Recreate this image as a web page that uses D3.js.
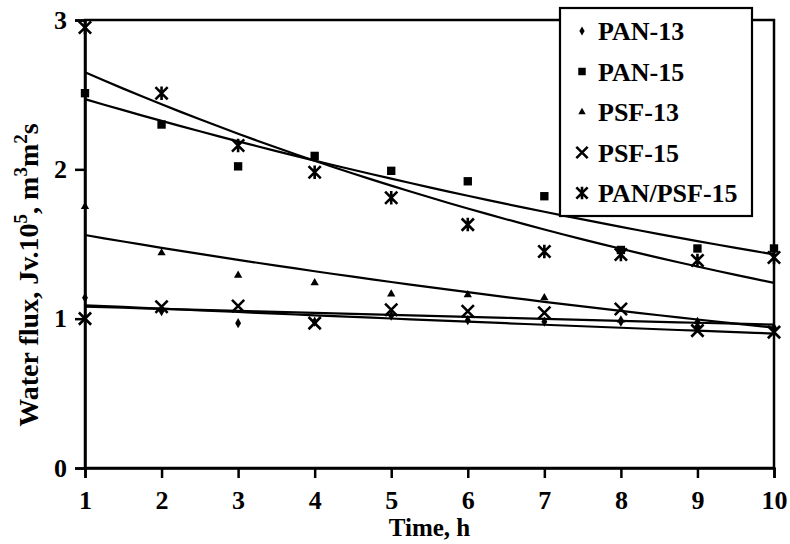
<!DOCTYPE html>
<html>
<head>
<meta charset="utf-8">
<script src="https://cdn.jsdelivr.net/npm/d3@7"></script>
<style>
  html, body { margin: 0; padding: 0; background: #fff; }
  svg text { font-family: "Liberation Serif", "Times New Roman", serif; font-weight: bold; fill: #000; }
</style>
</head>
<body>
<div id="chart"></div>
<script>
const timeHours = [1, 2, 3, 4, 5, 6, 7, 8, 9, 10];
const pan13 = [1.14, 1.05, 0.97, 0.98, 1.02, 0.99, 0.98, 0.98, 0.95, 0.93];
const pan15 = [2.51, 2.30, 2.02, 2.09, 1.99, 1.92, 1.82, 1.46, 1.47, 1.47];
const psf13 = [1.75, 1.44, 1.29, 1.24, 1.165, 1.16, 1.14, 0.99, 0.98, 0.94];
const psf15 = [1.00, 1.08, 1.085, 0.97, 1.06, 1.05, 1.04, 1.065, 0.92, 0.91];
const panPsf15 = [2.95, 2.51, 2.16, 1.98, 1.81, 1.63, 1.45, 1.43, 1.39, 1.41];

// trend line values read at t = 1 and t = 10
const seriesNames = ["PAN-13", "PAN-15", "PSF-13", "PSF-15", "PAN/PSF-15"];
const trendStart = [1.09, 2.47, 1.56, 1.08, 2.65];
const trendEnd = [0.90, 1.43, 0.94, 0.96, 1.24];

const yTicks = [0, 1, 2, 3];

const W = 790, H = 544;
const svg = d3.select("#chart").append("svg").attr("width", W).attr("height", H);

const x = d3.scaleLinear().domain([1, 10]).range([85, 774]);
const y = d3.scaleLinear().domain([0, 3]).range([468, 20]);

// custom marks
const xMark = {
  draw(ctx, size) {
    const r = Math.sqrt(size) / 2;
    ctx.moveTo(-r, -r); ctx.lineTo(r, r);
    ctx.moveTo(-r, r); ctx.lineTo(r, -r);
  }
};
const starMark = {
  draw(ctx, size) {
    const r = Math.sqrt(size) / 2;
    ctx.moveTo(-r, -r); ctx.lineTo(r, r);
    ctx.moveTo(-r, r); ctx.lineTo(r, -r);
    ctx.moveTo(0, -r * 1.1); ctx.lineTo(0, r * 1.1);
  }
};

const series = [
  { name: seriesNames[0], values: pan13, type: d3.symbolDiamond, size: 30, filled: true },
  { name: seriesNames[1], values: pan15, type: d3.symbolSquare, size: 70, filled: true },
  { name: seriesNames[2], values: psf13, type: d3.symbolTriangle, size: 30, filled: true },
  { name: seriesNames[3], values: psf15, type: xMark, size: 150, filled: false },
  { name: seriesNames[4], values: panPsf15, type: starMark, size: 150, filled: false }
];

// frame
svg.append("rect")
  .attr("x", x(1)).attr("y", y(3))
  .attr("width", x(10) - x(1)).attr("height", y(0) - y(3))
  .attr("fill", "none").attr("stroke", "#000").attr("stroke-width", 2.5);

// axes
const yAxis = svg.append("g")
  .attr("transform", `translate(${x(1)},0)`)
  .call(d3.axisLeft(y).tickValues(yTicks).tickSize(10).tickPadding(8).tickFormat(d3.format("d")));
const xAxis = svg.append("g")
  .attr("transform", `translate(0,${y(0)})`)
  .call(d3.axisBottom(x).tickValues(timeHours).tickSize(10).tickPadding(13).tickFormat(d3.format("d")));

[xAxis, yAxis].forEach(g => {
  g.select(".domain").attr("stroke-width", 2.5);
  g.selectAll(".tick line").attr("stroke-width", 2.5);
  g.selectAll("text").attr("font-size", 26).attr("font-family", "Liberation Serif").attr("font-weight", "bold").attr("fill", "#000");
});

// trend lines
const line = d3.line().x(d => x(d[0])).y(d => y(d[1]));
series.forEach((s, i) => {
  const pts = d3.range(1, 10.001, 0.25).map(t =>
    [t, trendStart[i] * Math.pow(trendEnd[i] / trendStart[i], (t - 1) / 9)]);
  svg.append("path").datum(pts).attr("d", line)
    .attr("fill", "none").attr("stroke", "#000").attr("stroke-width", 2.2);
});

// points
series.forEach(s => {
  const sym = d3.symbol().type(s.type).size(s.size);
  svg.append("g").selectAll("path")
    .data(s.values.map((v, j) => [timeHours[j], v]))
    .join("path")
    .attr("transform", d => `translate(${x(d[0])},${y(d[1])})`)
    .attr("d", sym)
    .attr("fill", s.filled ? "#000" : "none")
    .attr("stroke", s.filled ? "none" : "#000")
    .attr("stroke-width", 2.6);
});

// legend
const legend = svg.append("g");
legend.append("rect")
  .attr("x", 560).attr("y", 8).attr("width", 192).attr("height", 208)
  .attr("fill", "#fff").attr("stroke", "#000").attr("stroke-width", 2.2);
series.forEach((s, i) => {
  const cy = 31 + i * 40.5;
  const sz = s.filled ? s.size * 0.8 : s.size * 0.85;
  legend.append("path")
    .attr("transform", `translate(582,${cy})`)
    .attr("d", d3.symbol().type(s.type).size(sz))
    .attr("fill", s.filled ? "#000" : "none")
    .attr("stroke", s.filled ? "none" : "#000")
    .attr("stroke-width", 2.6);
  legend.append("text")
    .attr("x", 598).attr("y", cy + 9)
    .attr("font-size", 26)
    .text(s.name);
});

// axis titles
svg.append("text")
  .attr("x", x(5.5)).attr("y", 536)
  .attr("text-anchor", "middle").attr("font-size", 25)
  .text("Time, h");

const yTitle = svg.append("text")
  .attr("transform", "translate(38,275) rotate(-90)")
  .attr("text-anchor", "middle").attr("font-size", 28);
yTitle.append("tspan").text("Water flux, J");
yTitle.append("tspan").text("v");
yTitle.append("tspan").text(".10");
yTitle.append("tspan").attr("dy", -11).attr("font-size", 19).text("5");
yTitle.append("tspan").attr("dy", 11).text(", m");
yTitle.append("tspan").attr("dy", -11).attr("font-size", 19).text("3");
yTitle.append("tspan").attr("dy", 11).text("m");
yTitle.append("tspan").attr("dy", -11).attr("font-size", 19).text("2");
yTitle.append("tspan").attr("dy", 11).text("s");
</script>
</body>
</html>
